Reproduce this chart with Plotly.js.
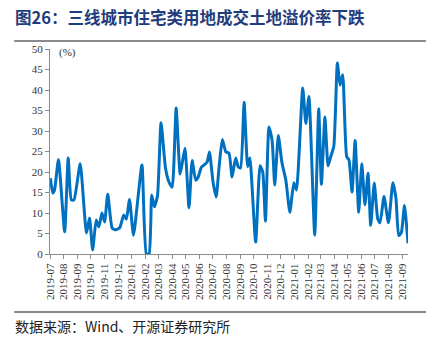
<!DOCTYPE html>
<html>
<head>
<meta charset="utf-8">
<script src="https://cdn.plot.ly/plotly-3.0.1.min.js"></script>
<style>html,body{margin:0;padding:0;background:#fff;}#chart{width:430px;height:344px;}</style>
</head>
<body>
<div id="chart"></div>
<script>
const chartTitle = "图26：三线城市住宅类用地成交土地溢价率下跌";
const sourceText = "数据来源：Wind、开源证券研究所";
const unitLabel = "(%)";

const dates = [
"2019-07-02","2019-07-07","2019-07-11","2019-07-20","2019-08-03","2019-08-11","2019-08-18","2019-08-24",
"2019-09-07","2019-09-21","2019-09-28","2019-10-05","2019-10-13","2019-10-19","2019-10-26","2019-11-01",
"2019-11-08","2019-11-18","2019-11-26","2019-12-05","2019-12-14","2019-12-20","2019-12-27","2020-01-05",
"2020-01-24","2020-02-03","2020-02-09","2020-02-15","2020-02-21","2020-02-28","2020-03-07","2020-03-17",
"2020-03-25","2020-04-01","2020-04-10","2020-04-19","2020-04-25","2020-04-30","2020-05-09","2020-05-16",
"2020-05-24","2020-05-29","2020-06-06","2020-06-13","2020-06-19","2020-06-24","2020-07-02","2020-07-09",
"2020-07-16","2020-07-23","2020-07-31","2020-08-07","2020-08-14","2020-08-22","2020-08-28","2020-09-02",
"2020-09-10","2020-09-18","2020-09-23","2020-10-06","2020-10-16","2020-10-22","2020-10-28","2020-11-05",
"2020-11-12","2020-11-18","2020-11-26","2020-12-04","2020-12-13","2020-12-22","2020-12-31","2021-01-06",
"2021-01-20","2021-01-27","2021-02-03","2021-02-16","2021-02-25","2021-03-03","2021-03-11","2021-03-18",
"2021-03-24","2021-03-31","2021-04-08","2021-04-14","2021-04-20","2021-04-29","2021-05-04","2021-05-11",
"2021-05-18","2021-05-26","2021-06-02","2021-06-09","2021-06-16","2021-06-22","2021-06-30","2021-07-08",
"2021-07-13","2021-07-22","2021-08-01","2021-08-11","2021-08-18","2021-08-24","2021-08-30","2021-09-06",
"2021-09-14"
];

const premiumRate = [
18.5,14.9,15.5,23.0,5.4,23.4,13.2,13.2,
22.0,5.1,8.8,1.0,8.3,6.6,10.0,7.8,
14.6,6.3,5.9,6.4,9.5,8.5,13.3,4.6,
21.7,0.0,0.0,14.4,11.5,14.2,32.0,21.0,
17.5,16.3,35.6,19.5,23.0,25.8,11.3,22.8,
18.0,18.6,21.2,21.8,22.5,24.9,17.6,13.9,
21.6,27.9,24.9,24.6,18.8,23.4,21.2,21.0,
37.0,21.3,23.4,2.9,21.5,20.0,8.0,31.0,
27.8,16.8,28.9,22.4,18.0,10.2,17.4,15.6,
40.5,31.8,38.4,4.6,35.4,17.0,33.4,21.5,
23.7,26.3,46.6,41.2,43.7,23.7,23.0,15.1,
27.7,10.2,22.0,12.0,19.7,7.0,17.3,8.5,
7.6,14.0,7.6,17.4,13.5,4.5,5.2,11.8,
2.6
];

const yTicks = [0,5,10,15,20,25,30,35,40,45,50];

const axisColor = "#8c8c8c";
const tickFont = {family: "Liberation Serif, Times New Roman, serif", size: 11, color: "#333"};

const trace = {
  x: dates,
  y: premiumRate,
  type: "scatter",
  mode: "lines",
  line: {color: "#0070C0", width: 3, shape: "spline", smoothing: 0.5},
  hoverinfo: "skip"
};

const layout = {
  width: 430,
  height: 344,
  margin: {l: 50, r: 22, t: 49, b: 90},
  paper_bgcolor: "#fff",
  plot_bgcolor: "#fff",
  showlegend: false,
  xaxis: {
    type: "date",
    range: ["2019-07-01", "2021-09-14"],
    tick0: "2019-07-01",
    dtick: "M1",
    tickformat: "%Y-%m",
    tickangle: -90,
    showgrid: false,
    zeroline: false,
    showline: true,
    linecolor: axisColor,
    linewidth: 1,
    ticks: "outside",
    ticklen: 4,
    tickcolor: axisColor,
    tickfont: tickFont
  },
  yaxis: {
    range: [0, 50],
    tickvals: yTicks,
    ticktext: yTicks.map(String),
    showgrid: false,
    zeroline: false,
    showline: true,
    linecolor: axisColor,
    linewidth: 1,
    ticks: "outside",
    ticklen: 4,
    tickcolor: axisColor,
    tickfont: tickFont
  },
  annotations: [
    {text: "<b>" + chartTitle + "</b>", xref: "paper", yref: "paper", x: -0.102, y: 1.157,
     xanchor: "left", yanchor: "middle", showarrow: false,
     font: {family: "Noto Sans CJK SC, sans-serif", size: 16.5, color: "#1F3C7C"}},
    {text: unitLabel, xref: "paper", yref: "paper", x: 0.02, y: 0.985,
     xanchor: "left", yanchor: "middle", showarrow: false,
     font: {family: "Liberation Serif, serif", size: 11, color: "#333"}},
    {text: sourceText, xref: "paper", yref: "paper", x: -0.102, y: -0.352,
     xanchor: "left", yanchor: "middle", showarrow: false,
     font: {family: "Noto Sans CJK SC, sans-serif", size: 14, color: "#222"}}
  ],
  shapes: [
    {type: "line", xref: "paper", yref: "paper", x0: -0.1, x1: 1.05, y0: 1.039, y1: 1.039,
     line: {color: "#8a8a8a", width: 2}},
    {type: "line", xref: "paper", yref: "paper", x0: -0.1, x1: 1.05, y0: -0.283, y1: -0.283,
     line: {color: "#8a8a8a", width: 2}}
  ]
};

Plotly.newPlot("chart", [trace], layout, {staticPlot: true, displayModeBar: false});
</script>
</body>
</html>
